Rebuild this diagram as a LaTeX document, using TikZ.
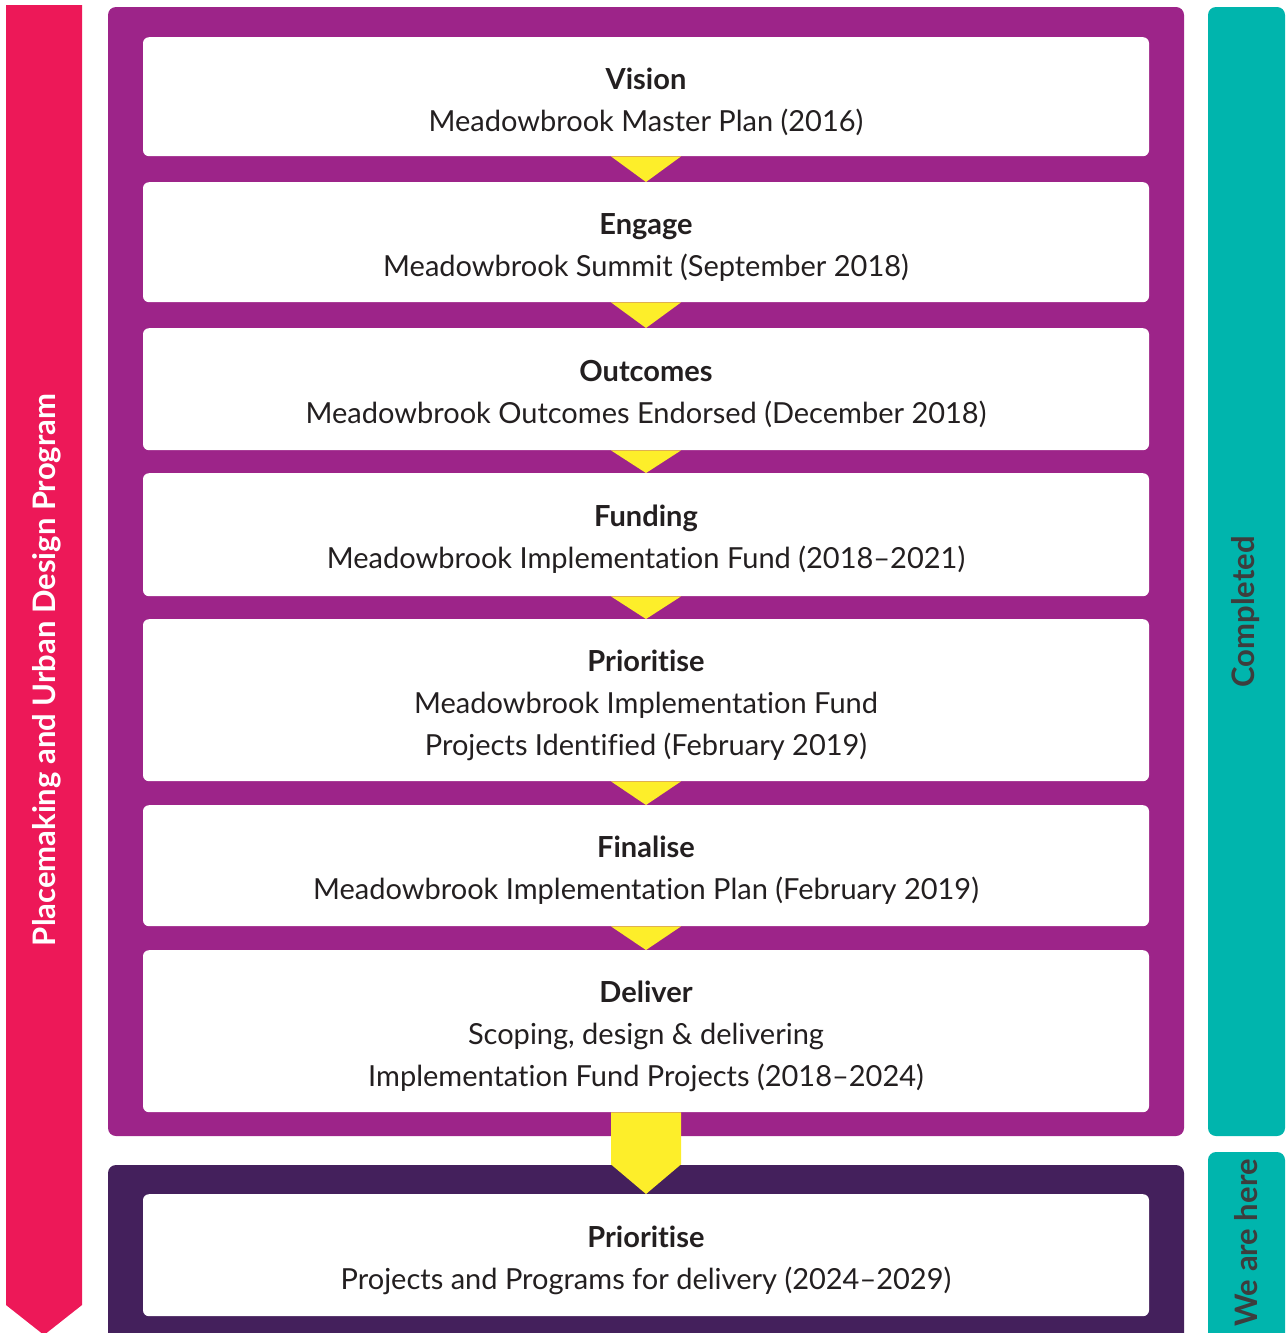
\documentclass[tikz,border=0pt]{standalone}
\usepackage{fontspec}
\setmainfont{Lato}[Ligatures={NoCommon,NoDiscretionary}]
\usetikzlibrary{positioning,calc}
\definecolor{pinkbar}{HTML}{ED1858}
\definecolor{plum}{HTML}{9D2489}
\definecolor{darkplum}{HTML}{44205C}
\definecolor{tealbar}{HTML}{00B5AD}
\definecolor{arrowyellow}{HTML}{FDEE2A}
\definecolor{boxtext}{HTML}{231F20}
\definecolor{sidetext}{HTML}{3D3D3D}

\begin{document}
\begin{tikzpicture}[x=1pt,y=-1pt,
    stepbox/.style={fill=white, rounded corners=6pt, minimum width=1006pt, anchor=north, inner sep=0pt},
    steptext/.style={align=center, text=boxtext, inner sep=0pt, font=\fontsize{29}{42}\selectfont},
    sidelabel/.style={rotate=90, font=\fontsize{31}{36}\selectfont\bfseries}]
    \useasboundingbox (0,0) rectangle (1285,1333); % Page size

    % Side bars
    \fill[pinkbar] (6,5) -- (82,5) -- (82,1305) -- (44,1335) -- (6,1305) -- cycle;
    \fill[tealbar, rounded corners=8pt] (1208,7) rectangle (1285,1136);
    \fill[tealbar, rounded corners=8pt] (1208,1152) rectangle (1285,1345);

    % Panels behind the steps
    \fill[plum, rounded corners=8pt] (108,7) rectangle (1184,1136);
    \fill[darkplum, rounded corners=8pt] (108,1165) rectangle (1184,1345);

    % Step boxes: top / height / name / text
    \foreach \top/\h/\name/\txt in {
        37/119/vision/{\textbf{Vision}\\Meadowbrook Master Plan (2016)},
        182/120/engage/{\textbf{Engage}\\Meadowbrook Summit (September 2018)},
        328/122/outcomes/{\textbf{Outcomes}\\Meadowbrook Outcomes Endorsed (December 2018)},
        473/123/funding/{\textbf{Funding}\\Meadowbrook Implementation Fund (2018--2021)},
        619/162/prioritise/{\textbf{Prioritise}\\Meadowbrook Implementation Fund\\Projects Identified (February 2019)},
        805/121/finalise/{\textbf{Finalise}\\Meadowbrook Implementation Plan (February 2019)},
        950/162/deliver/{\textbf{Deliver}\\Scoping, design \& delivering\\Implementation Fund Projects (2018--2024)},
        1194/122/nextstep/{\textbf{Prioritise}\\Projects and Programs for delivery (2024--2029)}}{
        \node[stepbox, minimum height=\h pt] (\name) at (646,\top) {};
        \node[steptext] (\name-text) at ($(\name.center)+(0,5)$) {\txt}; % Text a bit below centre
    }

    % Yellow arrows between the steps
    \foreach \a/\b in {vision/engage, engage/outcomes, outcomes/funding,
        funding/prioritise, prioritise/finalise, finalise/deliver}{
        \fill[arrowyellow] ($(\a.south)+(-35,0)$) -- ($(\a.south)+(35,0)$) -- (\b.north) -- cycle;
    }
    \fill[arrowyellow] ($(deliver.south)+(-35,0)$) -- ($(deliver.south)+(35,0)$)
        -- ($(deliver.south)+(35,52)$) -- (nextstep.north) -- ($(deliver.south)+(-35,52)$) -- cycle;

    % Side labels
    \node[sidelabel, text=white] (program) at (47,670) {Placemaking and Urban Design Program};
    \node[sidelabel, text=sidetext] (completed) at (1246,612) {Completed};
    \node[sidelabel, text=sidetext] (wearehere) at (1246,1243) {We are here};
\end{tikzpicture}
\end{document}
